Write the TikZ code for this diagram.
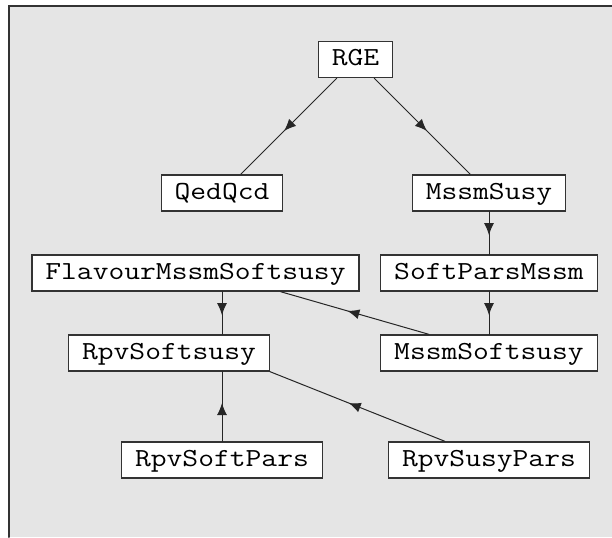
\documentclass[tikz,border=0pt]{standalone}
\usepackage{fontspec}
\setmonofont[FakeStretch = 1.18]{Latin Modern Mono}
\usetikzlibrary{arrows.meta, decorations.markings}

\begin{document}
\begin{tikzpicture}[%
        x = 0.5pt,
        y = -0.5pt,
        line cap = round,
        classbox/.style = {%
            draw = black!80,
            fill = white,
            line width = 0.65pt,
            font = \ttfamily\fontsize{13}{15}\selectfont,
            inner xsep = 6.7pt,
            inner ysep = 0pt,
            minimum height = 18pt,
            text height = 8.5pt,
            text depth = 2.5pt
        },
        link/.style = {%
            draw = black!85,
            line width = 0.5pt,
            postaction = {decorate},
            decoration = {markings,
                mark = at position 0.55 with {\arrow{Latex[length = 6pt, width = 5pt]}}}
        }
    ]

        % Page size and the grey panel with its frame on top and left.
        \useasboundingbox (0, 0) rectangle (612, 537);
        \fill[black!10] (9, 6) rectangle (612, 537);
        \draw[draw = black!80, line width = 1pt] (9, 537) -- (9, 6) -- (612, 6);

        % The classes.
        \node[classbox] (RGE) at (355.5, 59.5) {RGE};
        \node[classbox] (QedQcd) at (222, 193) {QedQcd};
        \node[classbox] (MssmSusy) at (489, 193) {MssmSusy};
        \node[classbox] (Flavour) at (195.5, 273) {FlavourMssmSoftsusy};
        \node[classbox] (SoftPars) at (489, 273) {SoftParsMssm};
        \node[classbox] (RpvSoft) at (169, 353) {RpvSoftsusy};
        \node[classbox] (MssmSoft) at (489, 353) {MssmSoftsusy};
        \node[classbox] (RpvSoftPars) at (222, 460) {RpvSoftPars};
        \node[classbox] (RpvSusyPars) at (489, 460) {RpvSusyPars};

        % Inheritance links, arrow half way along.
        \draw[link] (RGE) -- (QedQcd);
        \draw[link] (RGE) -- (MssmSusy);
        \draw[link] (MssmSusy) -- (SoftPars);
        \draw[link] (SoftPars) -- (MssmSoft);
        \draw[link] ([xshift = -30pt]MssmSoft.north) -- ([xshift = 42.5pt]Flavour.south);
        \draw[link] (Flavour.south -| RpvSoftPars.north) -- (RpvSoft.north -| RpvSoftPars.north);
        \draw[link] (RpvSoftPars.north) -- (RpvSoft.south -| RpvSoftPars.north);
        \draw[link] ([xshift = -22pt]RpvSusyPars.north) -- (RpvSoft.south east);
    \end{tikzpicture}
\end{document}
